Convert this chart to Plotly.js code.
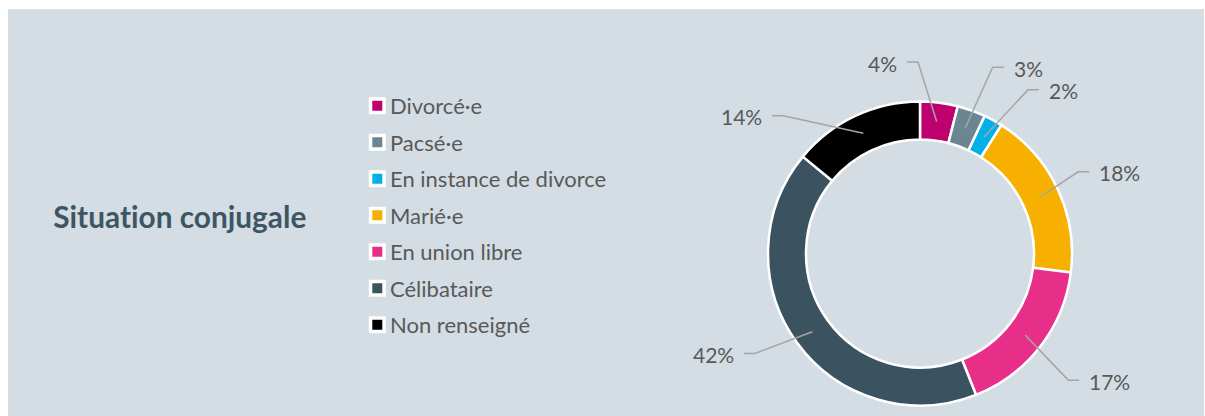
<!DOCTYPE html>
<html>
<head>
<meta charset="utf-8">
<script src="https://cdn.plot.ly/plotly-3.0.1.min.js"></script>
<style>
  html, body { margin: 0; padding: 0; background: #ffffff; }
  #chart { width: 1205px; height: 416px; }
  #chart text { font-variant-ligatures: none; font-feature-settings: "liga" 0; }
</style>
</head>
<body>
<div id="chart"></div>
<script>
// ---- data ----
const categories = ["Divorcé·e", "Pacsé·e", "En instance de divorce", "Marié·e", "En union libre", "Célibataire", "Non renseigné"];
const values = [4, 3, 2, 18, 17, 42, 14];
const colors = ["#bf006f", "#6b8593", "#00b0e6", "#f8b000", "#e72f8a", "#3b5361", "#000000"];
const chartTitle = "Situation conjugale";

// ---- layout constants (pixels) ----
const W = 1205, H = 416;
const cx = 920, cy = 253.5, R = 152, holeFrac = 0.75;
// label elbow placement around the ring: [angle in degrees clockwise from 12 o'clock, radius px]
const labelElbow = [[-0.6, 191.5], [21.3, 200], [33.4, 196], [62.7, 178], [130.5, 195], [238.8, 193], [315.2, 194]];
const lineFont = "Lato, 'Open Sans', sans-serif";

const px = x => x / W;
const py = y => 1 - y / H;

const total = values.reduce((a, b) => a + b, 0);
const shapes = [];
const annotations = [];

// panel background
shapes.push({type: 'rect', xref: 'paper', yref: 'paper', layer: 'below',
  x0: px(8), x1: px(1204), y0: py(416), y1: py(9),
  fillcolor: '#d3dde3', line: {width: 0}});

// leader lines + labels computed from the data
let cum = 0;
const rMid = R * (1 + holeFrac) / 2;
values.forEach((v, i) => {
  const mid = (cum + v / 2) / total * 2 * Math.PI;
  cum += v;
  const sx = cx + rMid * Math.sin(mid), sy = cy - rMid * Math.cos(mid);
  const ea = labelElbow[i][0] * Math.PI / 180, er = labelElbow[i][1];
  const ex = cx + er * Math.sin(ea), ey = cy - er * Math.cos(ea);
  const right = ex >= cx - 5 && !(i === 0);
  const hx = right ? ex + 11 : ex - 11;
  shapes.push({type: 'path', xref: 'paper', yref: 'paper', layer: 'above',
    path: `M ${px(sx)} ${py(sy)} L ${px(ex)} ${py(ey)} L ${px(hx)} ${py(ey)}`,
    line: {color: '#a5a5a5', width: 1.5}});
  annotations.push({xref: 'paper', yref: 'paper', showarrow: false,
    x: px(right ? hx + 8 : hx - 8), y: py(ey + 1),
    xanchor: right ? 'left' : 'right', yanchor: 'middle',
    text: Math.round(v / total * 100) + '%',
    font: {family: lineFont, size: 21, color: '#595959'}});
});

// legend drawn from the categories
const legX = 377.3, legY0 = 105.8, legStep = 36.5, sq = 13.5;
categories.forEach((c, i) => {
  const y = legY0 + i * legStep;
  shapes.push({type: 'rect', xref: 'paper', yref: 'paper', layer: 'above',
    x0: px(legX - sq / 2), x1: px(legX + sq / 2), y0: py(y + sq / 2), y1: py(y - sq / 2),
    fillcolor: colors[i], line: {color: '#ffffff', width: 3.5}});
  annotations.push({xref: 'paper', yref: 'paper', showarrow: false,
    x: px(388), y: py(y), xanchor: 'left', yanchor: 'middle',
    text: c, font: {family: lineFont, size: 22, color: '#595959'}});
});

// title
annotations.push({xref: 'paper', yref: 'paper', showarrow: false,
  x: px(51), y: py(216), xanchor: 'left', yanchor: 'middle',
  text: '<b>' + chartTitle + '</b>',
  font: {family: lineFont, size: 29.8, color: '#3e5664'}});

const trace = {
  type: 'pie',
  labels: categories,
  values: values,
  sort: false,
  direction: 'clockwise',
  rotation: 0,
  hole: holeFrac,
  textinfo: 'none',
  hoverinfo: 'label+percent',
  marker: {colors: colors, line: {color: '#ffffff', width: 2.5}},
  domain: {x: [px(cx - R), px(cx + R)], y: [py(cy + R), py(cy - R)]},
  showlegend: false
};

const layout = {
  width: W, height: H,
  margin: {l: 0, r: 0, t: 0, b: 0},
  paper_bgcolor: '#ffffff',
  showlegend: false,
  shapes: shapes,
  annotations: annotations
};

Plotly.newPlot('chart', [trace], layout, {displayModeBar: false, staticPlot: true});
</script>
</body>
</html>
